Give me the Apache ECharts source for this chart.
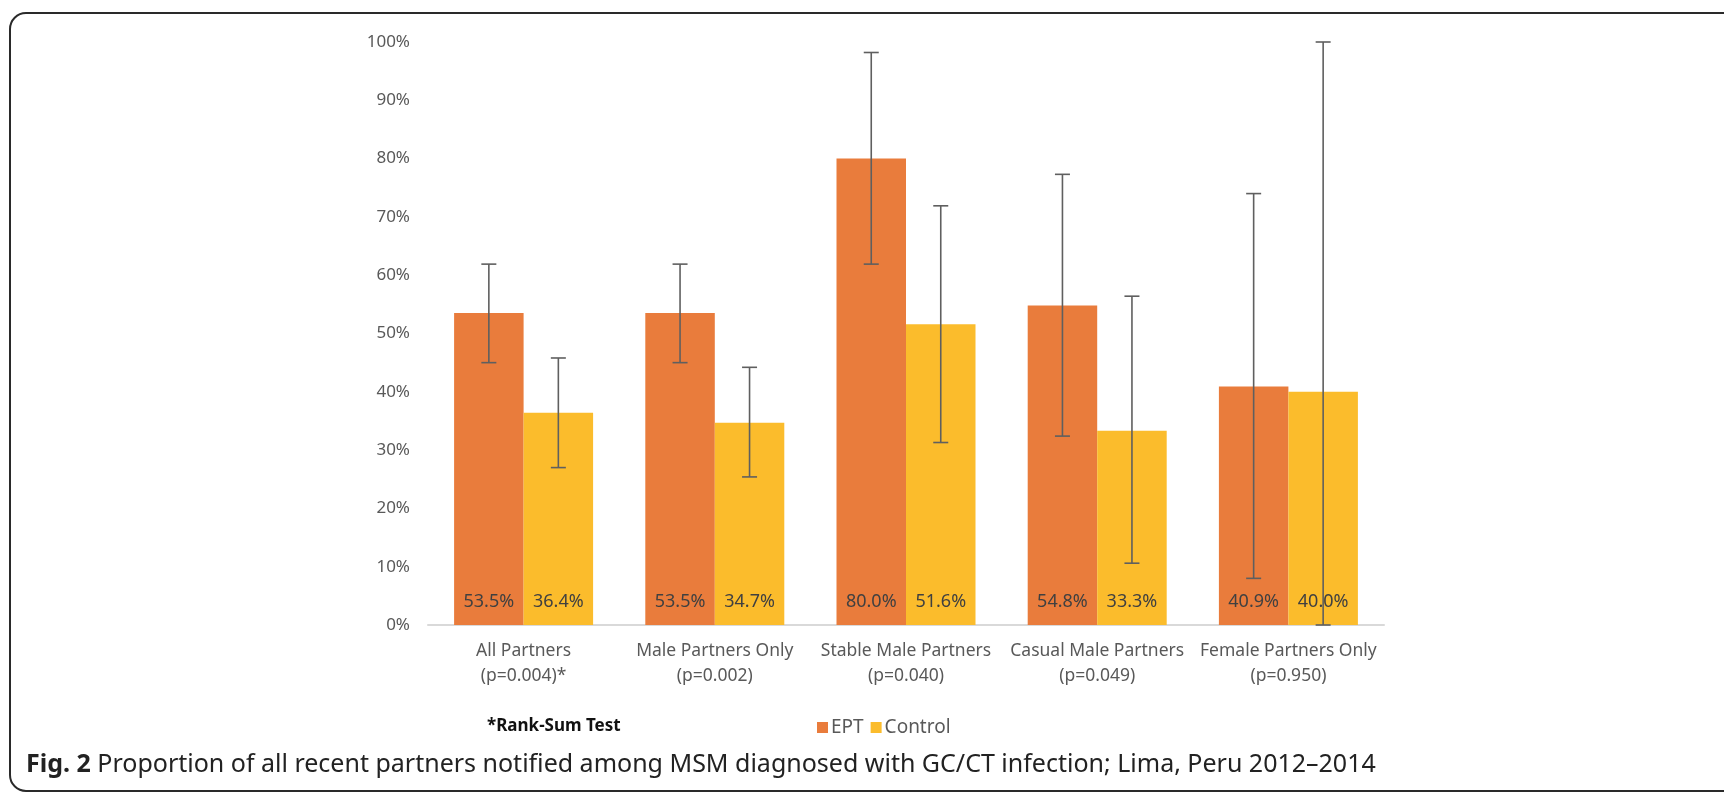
<!DOCTYPE html>
<html>
<head>
<meta charset="utf-8">
<script src="https://cdn.jsdelivr.net/npm/echarts@6/dist/echarts.min.js"></script>
<style>
  html, body { margin: 0; padding: 0; background: #fff; }
  #chart { width: 1724px; height: 796px; }
</style>
</head>
<body>
<div id="chart"></div>
<script>
// partner notification data
const categories = [
  'All Partners\n(p=0.004)*',
  'Male Partners Only\n(p=0.002)',
  'Stable Male Partners\n(p=0.040)',
  'Casual Male Partners\n(p=0.049)',
  'Female Partners Only\n(p=0.950)'
];
const eptValues = [53.5, 53.5, 80.0, 54.8, 40.9];
const controlValues = [36.4, 34.7, 51.6, 33.3, 40.0];
// confidence intervals (low / high)
const eptLow = [45.0, 45.0, 61.9, 32.4, 8.0];
const eptHigh = [61.9, 61.9, 98.2, 77.3, 74.0];
const controlLow = [27.0, 25.4, 31.3, 10.6, 0];
const controlHigh = [45.8, 44.2, 71.9, 56.4, 100];
const yTicks = [0, 10, 20, 30, 40, 50, 60, 70, 80, 90, 100];

const BAR_W = 69.5;
const FONT = '"Noto Sans", sans-serif';

const chart = echarts.init(document.getElementById('chart'));

// one custom series per group, shifted half a bar left / right
function errorSeries(name, low, high, shift) {
  return {
    type: 'custom',
    name: name,
    z: 10,
    silent: true,
    data: categories.map((c, i) => [i, low[i], high[i]]),
    renderItem: (params, api) => {
      const i = api.value(0);
      const top = api.coord([i, api.value(2)]);
      const bot = api.coord([i, api.value(1)]);
      const x = top[0] + shift * BAR_W / 2;
      const cap = 7.5;
      const style = { stroke: '#5f5f5f', lineWidth: 1.6 };
      return {
        type: 'group',
        children: [
          { type: 'line', shape: { x1: x, y1: top[1], x2: x, y2: bot[1] }, style },
          { type: 'line', shape: { x1: x - cap, y1: top[1], x2: x + cap, y2: top[1] }, style },
          { type: 'line', shape: { x1: x - cap, y1: bot[1], x2: x + cap, y2: bot[1] }, style }
        ]
      };
    }
  };
}

const barLabel = {
  show: true,
  position: 'insideBottom',
  distance: 14,
  color: '#404040',
  fontSize: 18,
  fontFamily: FONT,
  formatter: p => p.value.toFixed(1) + '%'
};

// figure frame, open on the right like the cropped original
const frameStyle = { stroke: '#2a2a2a', lineWidth: 2, fill: null };
const frame = [
  { type: 'line', shape: { x1: 26, y1: 13, x2: 1760, y2: 13 }, style: frameStyle, silent: true },
  { type: 'line', shape: { x1: 10, y1: 29, x2: 10, y2: 775 }, style: frameStyle, silent: true },
  { type: 'line', shape: { x1: 26, y1: 791, x2: 1760, y2: 791 }, style: frameStyle, silent: true },
  { type: 'arc', shape: { cx: 26, cy: 29, r: 16, startAngle: Math.PI, endAngle: Math.PI * 1.5 }, style: frameStyle, silent: true },
  { type: 'arc', shape: { cx: 26, cy: 775, r: 16, startAngle: Math.PI * 0.5, endAngle: Math.PI }, style: frameStyle, silent: true }
];

const option = {
  backgroundColor: '#fff',
  animation: false,
  textStyle: { fontFamily: FONT },
  grid: { left: 428, right: 340, top: 42, bottom: 171 },
  legend: {
    data: ['EPT', 'Control'],
    left: 817,
    top: 718,
    icon: 'rect',
    itemWidth: 11,
    itemHeight: 11,
    itemGap: 7,
    padding: 0,
    textStyle: { fontSize: 19, color: '#595959', fontFamily: FONT, padding: [0, 0, 0, -2] }
  },
  xAxis: {
    type: 'category',
    data: categories,
    axisLine: { lineStyle: { color: '#d9d9d9', width: 2 } },
    axisTick: { show: false },
    axisLabel: {
      color: '#595959',
      fontSize: 17.5,
      lineHeight: 25,
      margin: 14,
      fontFamily: FONT,
      interval: 0
    }
  },
  yAxis: {
    type: 'value',
    min: yTicks[0],
    max: yTicks[yTicks.length - 1],
    interval: 10,
    axisLine: { show: false },
    axisTick: { show: false },
    splitLine: { show: false },
    axisLabel: {
      color: '#595959',
      fontSize: 17,
      margin: 18,
      fontFamily: FONT,
      formatter: '{value}%'
    }
  },
  series: [
    {
      name: 'EPT',
      type: 'bar',
      data: eptValues,
      barWidth: BAR_W,
      barGap: '0%',
      itemStyle: { color: '#e97c3c' },
      label: barLabel
    },
    {
      name: 'Control',
      type: 'bar',
      data: controlValues,
      barWidth: BAR_W,
      barGap: '0%',
      itemStyle: { color: '#fbbc2c' },
      label: barLabel
    },
    errorSeries('EPT CI', eptLow, eptHigh, -1),
    errorSeries('Control CI', controlLow, controlHigh, 1)
  ],
  graphic: frame.concat([
    {
      type: 'text',
      left: 487,
      top: 718,
      style: {
        text: '*Rank-Sum Test',
        fontSize: 17,
        fontWeight: 'bold',
        fill: '#111',
        fontFamily: FONT
      }
    },
    {
      type: 'text',
      left: 26,
      top: 752,
      style: {
        text: '{b|Fig. 2} Proportion of all recent partners notified among MSM diagnosed with GC/CT infection; Lima, Peru 2012\u20132014',
        fontSize: 25,
        fill: '#222',
        fontFamily: FONT,
        rich: {
          b: { fontSize: 25, fontWeight: 'bold', fill: '#222', fontFamily: FONT }
        }
      }
    }
  ])
};

chart.setOption(option);
</script>
</body>
</html>
